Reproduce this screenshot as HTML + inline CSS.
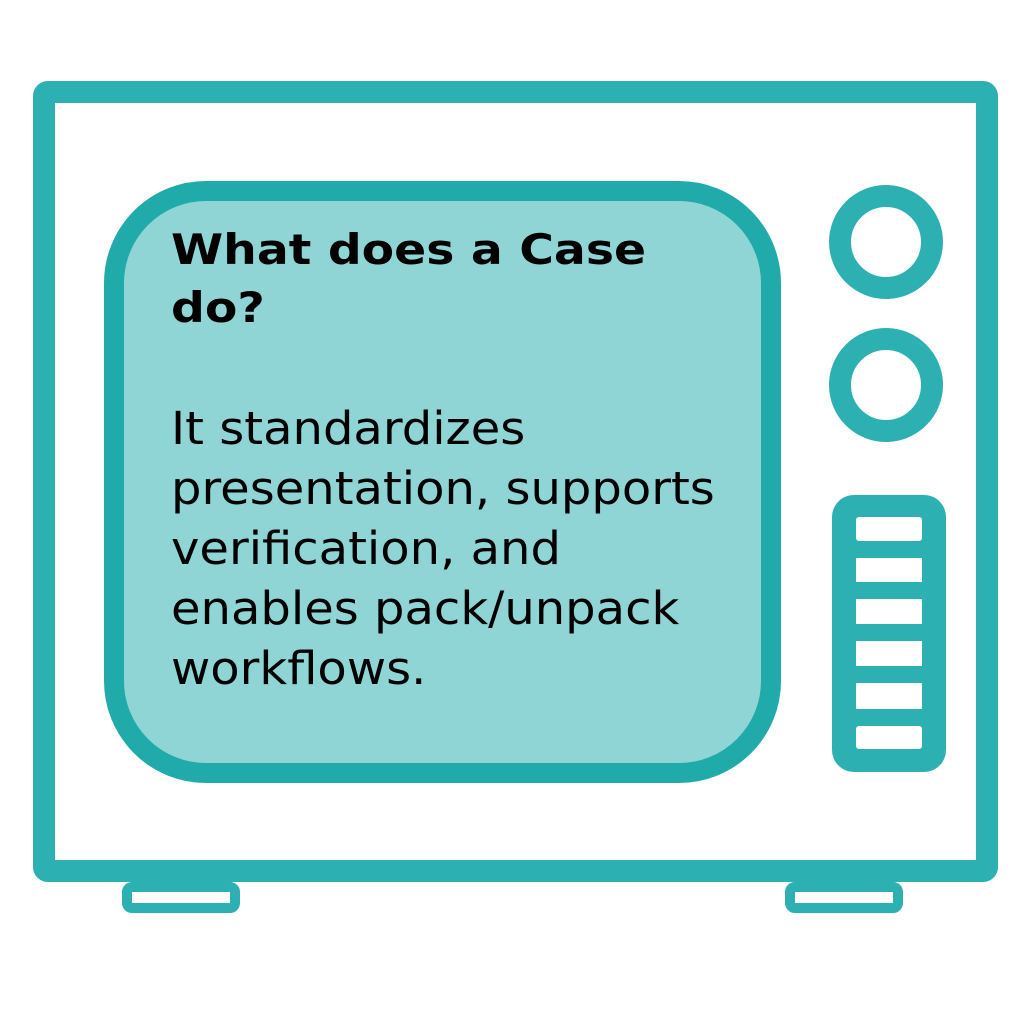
<!DOCTYPE html>
<html><head><style>
html,body{margin:0;padding:0;background:#fff;}
body{width:1024px;height:1024px;position:relative;overflow:hidden;font-family:"Liberation Sans","DejaVu Sans",sans-serif;}
.t{position:absolute;left:171px;color:#000;white-space:nowrap;font-family:"DejaVu Sans","Liberation Sans",sans-serif;transform-origin:0 0;}
</style></head><body>
<svg width="1024" height="1024" style="position:absolute;left:0;top:0">
<rect x="44" y="92" width="943" height="779" rx="4" fill="#fff" stroke="#2cb0b1" stroke-width="22"/>
<rect x="127" y="887" width="108" height="21" rx="5" fill="#fff" stroke="#2cb0b1" stroke-width="10"/>
<rect x="790" y="887" width="108" height="21" rx="5" fill="#fff" stroke="#2cb0b1" stroke-width="10"/>
<rect x="114" y="191" width="657" height="582" rx="92" fill="#8fd5d5" stroke="#20aaaa" stroke-width="20"/>
<circle cx="886" cy="242" r="46" fill="#fff" stroke="#2cb0b1" stroke-width="22"/>
<circle cx="886" cy="385" r="46" fill="#fff" stroke="#2cb0b1" stroke-width="22"/>
<rect x="832" y="495" width="114" height="277" rx="22" fill="#2cb0b1"/>
<g fill="#fff">
<rect x="856" y="517" width="66" height="24" rx="3"/>
<rect x="856" y="558" width="66" height="24"/>
<rect x="856" y="599" width="66" height="25"/>
<rect x="856" y="641" width="66" height="25"/>
<rect x="856" y="683" width="66" height="26"/>
<rect x="856" y="726" width="66" height="23" rx="3"/>
</g>
</svg>
<div class="t" style="top:221px;font-weight:bold;font-size:42px;line-height:58px;transform:scaleX(1.126);">What does a Case<br>do?</div>
<div class="t" style="top:399px;font-size:45px;line-height:60px;transform:scaleX(1.067);">It standardizes<br>presentation, supports<br>verification, and<br>enables pack/unpack<br>workflows.</div>
</body></html>
